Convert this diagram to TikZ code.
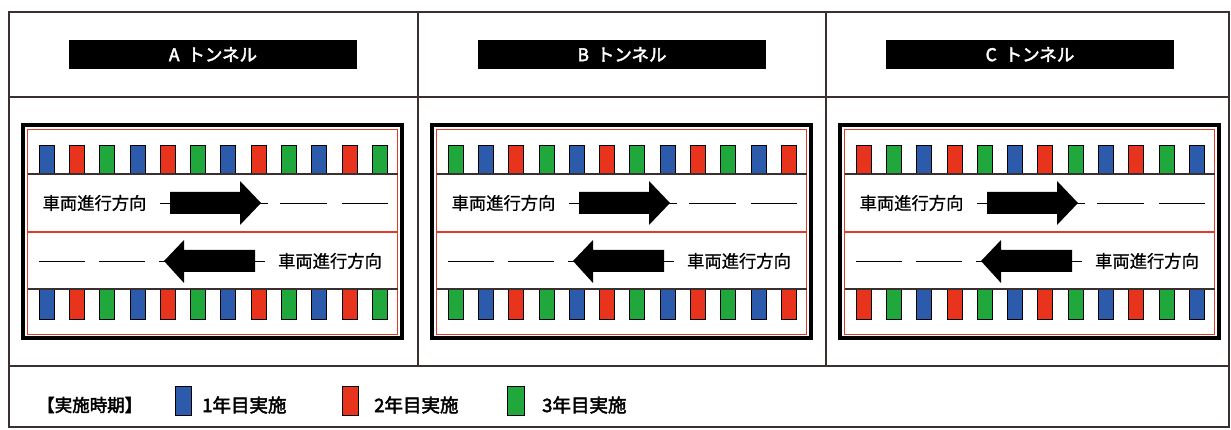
\documentclass[tikz,border=0pt]{standalone}
\usepackage{fontspec}
\newfontfamily\jp{Noto Sans CJK JP}[FakeBold=0.8]
\newfontfamily\jpb{Noto Sans CJK JP}[FakeBold=2.5]
\definecolor{pblue}{HTML}{2B5BAA}
\definecolor{pred}{HTML}{E8341C}
\definecolor{pgreen}{HTML}{20A83C}
\definecolor{frm}{HTML}{3A3030}
\definecolor{lred}{HTML}{E03A2A}
\tikzset{
  frameline/.style={draw=frm, line width=1.6},
  hdr/.style={fill=black, text=white, minimum width=288, minimum height=29, inner sep=0, font=\jpb\fontsize{17.5}{19}\selectfont},
  tbox/.style={draw=black, line width=4},
  tinner/.style={draw=lred, line width=1},
  postline/.style={draw=frm, line width=1.4},
  laneline/.style={draw=lred, line width=1.4},
  post/.style={draw=black, line width=0.8},
  post0/.style={post, fill=pblue},
  post1/.style={post, fill=pred},
  post2/.style={post, fill=pgreen},
  bigarrow/.style={fill=black},
  dashln/.style={draw=black, line width=0.9},
  lanetxt/.style={font=\jp\fontsize{17.3}{19}\selectfont, inner sep=0},
  legtxt/.style={font=\jpb\fontsize{18.5}{20}\selectfont, inner sep=0, anchor=west},
  legtxts/.style={font=\jpb\fontsize{17.5}{19}\selectfont, inner sep=0, anchor=west},
  legbox/.style={draw=black, line width=1}
}
\begin{document}
\begin{tikzpicture}[x=1pt,y=-1pt]
\useasboundingbox (0,0) rectangle (1231,430);
\fill[white] (0,0) rectangle (1231,430);
% outer frame
\draw[frameline] (9,12) rectangle (1229,427);
\draw[frameline] (9,97) -- (1229,97);
\draw[frameline] (9,366) -- (1229,366);
\draw[frameline] (418,12) -- (418,366);
\draw[frameline] (826,12) -- (826,366);
% columns
\foreach \o/\lab/\s in {0/A/0,409/B/2,817/C/1}{
\begin{scope}[xshift=\o]
  \node[hdr] (hdr\lab) at (213,54.5) {\lab\hspace{0.45em}トンネル};
  \draw[tbox] (23,125) rectangle (402,338);
  \draw[tinner] (27.5,129.5) rectangle (397.5,334);
  \foreach \i in {0,...,11}{
    \pgfmathtruncatemacro\k{mod(\i+\s,3)}
    \pgfmathsetmacro\px{39+30.3*\i}
    \draw[post\k] (\px,145) rectangle ++(15,29);
    \draw[post\k] (\px,289) rectangle ++(15,30);
  }
  \draw[postline] (27.5,174) -- (397.5,174);
  \draw[laneline] (27.5,232) -- (397.5,232);
  \draw[postline] (27.5,289) -- (397.5,289);
  % upper lane
  \node[lanetxt] (tu\lab) at (94.5,203) {車両進行方向};
  \draw[dashln] (160,203) -- (170,203);
  \draw[dashln] (260,203) -- (268,203);
  \draw[dashln] (280,203) -- (327,203);
  \draw[dashln] (342,203) -- (388,203);
  \fill[bigarrow] (170,192) -- (240,192) -- (240,181) -- (261,203) -- (240,225) -- (240,214) -- (170,214) -- cycle;
  % lower lane
  \node[lanetxt] (tl\lab) at (330,261) {車両進行方向};
  \draw[dashln] (39,261) -- (85,261);
  \draw[dashln] (99,261) -- (145,261);
  \draw[dashln] (159,261) -- (165,261);
  \draw[dashln] (255,261) -- (265,261);
  \fill[bigarrow] (255,250) -- (184,250) -- (184,240) -- (164,261) -- (184,283) -- (184,272) -- (255,272) -- cycle;
\end{scope}
}
% legend
\node[legtxts] (leg) at (37,405) {【実施時期】};
\draw[legbox, fill=pblue] (175,386) rectangle (191,415);
\node[legtxt] (l1) at (202,405) {1年目実施};
\draw[legbox, fill=pred] (342,386) rectangle (358,415);
\node[legtxt] (l2) at (374,405) {2年目実施};
\draw[legbox, fill=pgreen] (507,386) rectangle (524,415);
\node[legtxt] (l3) at (542,405) {3年目実施};
\end{tikzpicture}
\end{document}
